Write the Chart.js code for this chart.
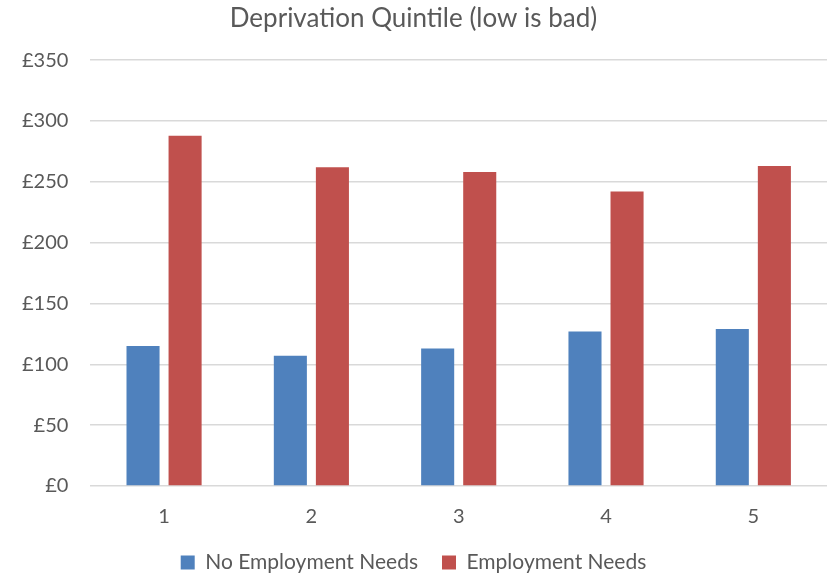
<!DOCTYPE html>
<html>
<head>
<meta charset="utf-8">
<script src="https://cdn.jsdelivr.net/npm/chart.js@4"></script>
<style>
  body { margin: 0; background: #fff; }
  #wrap { width: 829px; height: 575px; }
</style>
</head>
<body>
<div id="wrap"><canvas id="barChart" width="829" height="575"></canvas></div>
<script>
var quintiles = ["1", "2", "3", "4", "5"];
var noEmploymentNeeds = [115, 107, 113, 127, 129];
var employmentNeeds = [288, 262, 258, 242, 263];
var seriesNames = ["No Employment Needs", "Employment Needs"];
var seriesColors = ["#4F81BD", "#C0504D"];

var textColor = "#595959";
var fontFamily = "Lato, 'Open Sans', sans-serif";

var ctx = document.getElementById("barChart");
var chart = new Chart(ctx, {
    type: 'bar',
    data: {
        labels: quintiles,
        datasets: [{
            label: seriesNames[0],
            data: noEmploymentNeeds,
            backgroundColor: seriesColors[0],
            borderWidth: 0,
        }, {
            label: seriesNames[1],
            data: employmentNeeds,
            backgroundColor: seriesColors[1],
            borderWidth: 0,
        }],
    },
    options: {
        responsive: false,
        animation: false,
        categoryPercentage: 0.571,
        barPercentage: 0.786,
        layout: {
            padding: { left: 0, right: 2, top: 2, bottom: -8 }
        },
        plugins: {
            title: {
                display: true,
                text: "Deprivation Quintile (low is bad)",
                color: textColor,
                font: { family: fontFamily, size: 26, weight: 'normal' },
                padding: { top: 1, bottom: 26 },
            },
            legend: {
                display: true,
                position: 'bottom',
                labels: {
                    color: textColor,
                    font: { family: fontFamily, size: 21 },
                    boxWidth: 14,
                    boxHeight: 14,
                    padding: 24,
                },
            },
            tooltip: { enabled: false },
        },
        scales: {
            x: {
                grid: { display: false, drawTicks: false },
                border: { display: false },
                ticks: {
                    color: textColor,
                    font: { family: fontFamily, size: 20, lineHeight: 1 },
                    padding: 21,
                },
                // keep the axis box tight so the legend can have wider item gaps
                afterFit: function (scale) {
                    scale.height = 42;
                },
            },
            y: {
                min: 0,
                max: 350,
                grid: { color: "#D9D9D9", lineWidth: 1.5, drawTicks: false },
                border: { display: false },
                ticks: {
                    stepSize: 50,
                    color: textColor,
                    font: { family: fontFamily, size: 20 },
                    padding: 22,
                    callback: function (v) { return "£" + v; },
                },
            },
        },
    },
});
</script>
</body>
</html>
